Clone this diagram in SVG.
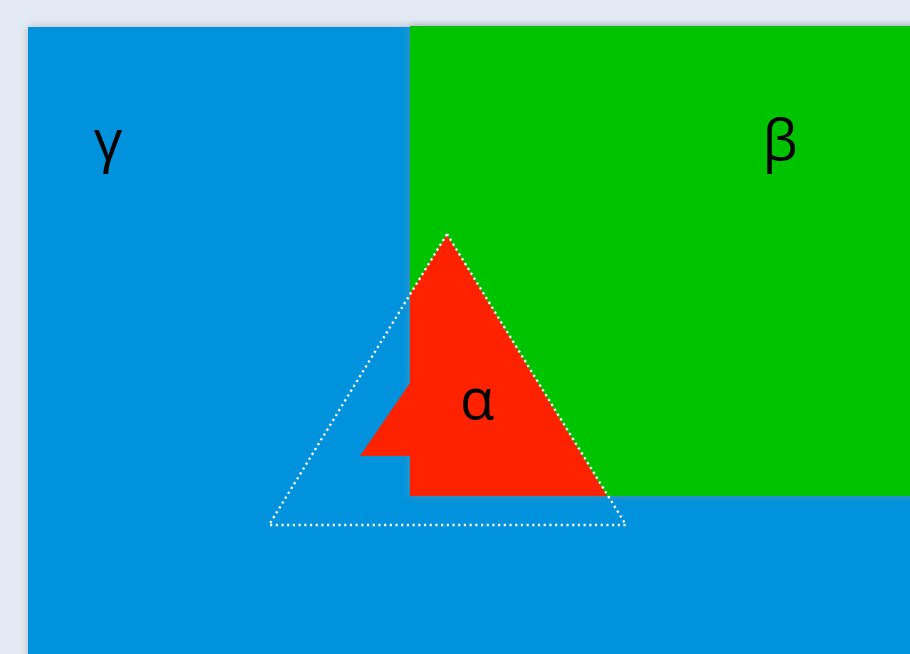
<svg xmlns="http://www.w3.org/2000/svg" width="910" height="654" viewBox="0 0 910 654">
  <defs>
    <filter id="shadow" x="-10%" y="-10%" width="130%" height="130%">
      <feDropShadow dx="0" dy="0" stdDeviation="4" flood-color="#8a93a3" flood-opacity="0.6"/>
    </filter>
  </defs>
  <style>
    .label { font-family: "Open Sans", "Noto Sans", "DejaVu Sans", sans-serif; font-size: 56px; fill: #000; text-anchor: middle; }
    .outline { fill: none; stroke: #ffffff; stroke-width: 2.4; stroke-dasharray: 2.2 3.5; }
  </style>
  <rect x="0" y="0" width="910" height="654" fill="#e4eaf4"/>
  <g id="gamma">
    <rect x="28" y="27" width="900" height="650" fill="#0092dc" filter="url(#shadow)"/>
    <text class="label" x="108" y="160">γ</text>
  </g>
  <g id="beta">
    <rect x="410" y="26" width="520" height="470" fill="#00c300" filter="url(#shadow)"/>
    <text class="label" x="780" y="160">β</text>
  </g>
  <g id="alpha">
    <polygon points="447,235 607,496 410,496 410,456 360,456 410,383 410,294" fill="#ff2200"/>
    <text class="label" x="477" y="419">α</text>
  </g>
  <g id="connectors">
    <polygon class="outline" points="447,234 626,525 269,525"/>
  </g>
</svg>
